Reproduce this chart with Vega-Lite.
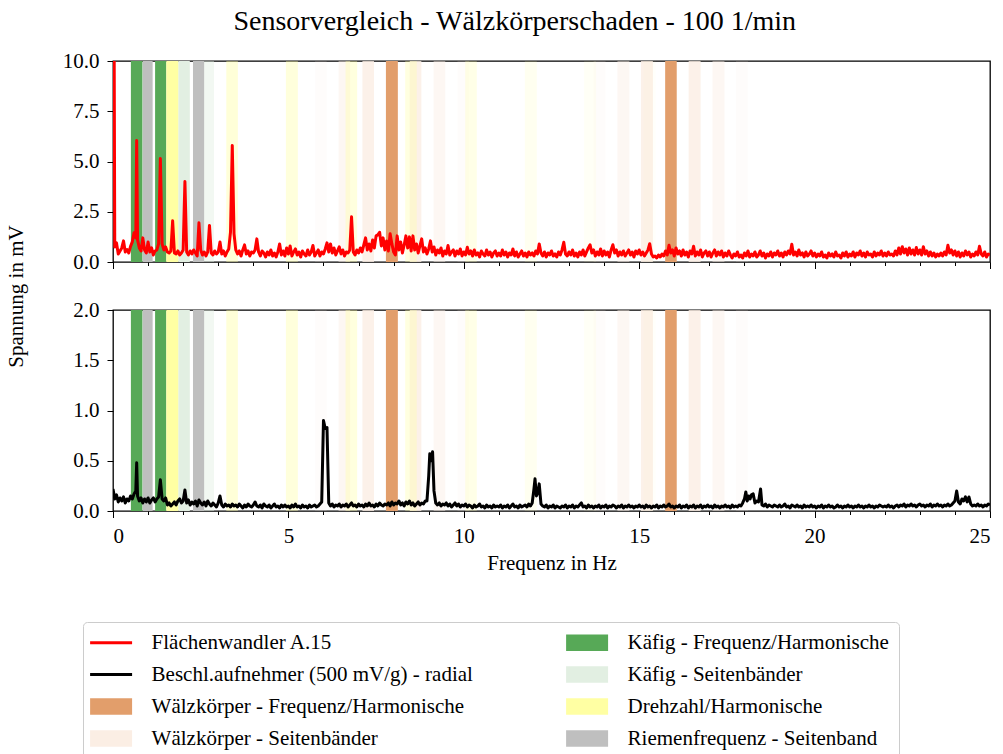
{
  "$schema": "https://vega.github.io/schema/vega-lite/v6.json",
  "background": "white",
  "padding": {"left": 4, "top": 8, "right": 5, "bottom": 5},
  "bounds": "flush",
  "title": {"text": "Sensorvergleich - Wälzkörperschaden - 100 1/min", "font": "Liberation Serif", "fontSize": 28, "fontWeight": "normal", "color": "black", "anchor": "middle", "dx": 17, "offset": 13},
  "datasets": {
    "bands": [
      {"a": 0.51, "b": 0.84, "k": "Käfig - Frequenz/Harmonische", "o": 1},
      {"a": 1.20, "b": 1.52, "k": "Käfig - Frequenz/Harmonische", "o": 1},
      {"a": 0.85, "b": 1.13, "k": "Riemenfrequenz - Seitenband", "o": 1},
      {"a": 2.28, "b": 2.60, "k": "Riemenfrequenz - Seitenband", "o": 1},
      {"a": 1.86, "b": 2.19, "k": "Käfig - Seitenbänder", "o": 1},
      {"a": 2.60, "b": 2.88, "k": "Käfig - Seitenbänder", "o": 0.45},
      {"a": 7.11, "b": 7.44, "k": "Wälzkörper - Seitenbänder", "o": 0.8},
      {"a": 8.46, "b": 8.79, "k": "Wälzkörper - Seitenbänder", "o": 0.8},
      {"a": 6.43, "b": 6.76, "k": "Wälzkörper - Seitenbänder", "o": 0.45},
      {"a": 9.14, "b": 9.47, "k": "Wälzkörper - Seitenbänder", "o": 0.45},
      {"a": 5.76, "b": 6.09, "k": "Wälzkörper - Seitenbänder", "o": 0.15},
      {"a": 9.82, "b": 10.15, "k": "Wälzkörper - Seitenbänder", "o": 0.15},
      {"a": 15.05, "b": 15.39, "k": "Wälzkörper - Seitenbänder", "o": 0.8},
      {"a": 16.41, "b": 16.75, "k": "Wälzkörper - Seitenbänder", "o": 0.8},
      {"a": 14.38, "b": 14.72, "k": "Wälzkörper - Seitenbänder", "o": 0.45},
      {"a": 17.09, "b": 17.43, "k": "Wälzkörper - Seitenbänder", "o": 0.45},
      {"a": 13.70, "b": 14.04, "k": "Wälzkörper - Seitenbänder", "o": 0.15},
      {"a": 17.76, "b": 18.10, "k": "Wälzkörper - Seitenbänder", "o": 0.15},
      {"a": 1.52, "b": 1.86, "k": "Drehzahl/Harmonische", "o": 1},
      {"a": 3.23, "b": 3.56, "k": "Drehzahl/Harmonische", "o": 0.42},
      {"a": 4.93, "b": 5.27, "k": "Drehzahl/Harmonische", "o": 0.38},
      {"a": 6.63, "b": 6.96, "k": "Drehzahl/Harmonische", "o": 0.36},
      {"a": 8.33, "b": 8.66, "k": "Drehzahl/Harmonische", "o": 0.34},
      {"a": 10.04, "b": 10.37, "k": "Drehzahl/Harmonische", "o": 0.26},
      {"a": 11.74, "b": 12.08, "k": "Drehzahl/Harmonische", "o": 0.16},
      {"a": 13.43, "b": 13.77, "k": "Drehzahl/Harmonische", "o": 0.1},
      {"a": 15.13, "b": 15.47, "k": "Drehzahl/Harmonische", "o": 0.05},
      {"a": 7.78, "b": 8.12, "k": "Wälzkörper - Frequenz/Harmonische", "o": 1},
      {"a": 15.74, "b": 16.07, "k": "Wälzkörper - Frequenz/Harmonische", "o": 1}
    ],
    "top": [
      {"f":0,"v":30},{"f":0.05,"v":0.75},{"f":0.1,"v":0.95},{"f":0.15,"v":0.4},{"f":0.2,"v":0.55},{"f":0.25,"v":0.7},{"f":0.3,"v":1.05},{"f":0.35,"v":0.5},{"f":0.4,"v":0.62},{"f":0.45,"v":0.45},{"f":0.5,"v":0.78},{"f":0.55,"v":1.0},{"f":0.6,"v":1.45},{"f":0.65,"v":1.2},{"f":0.675,"v":6.05},{"f":0.7,"v":1.1},{"f":0.75,"v":0.7},{"f":0.8,"v":0.55},{"f":0.85,"v":1.2},{"f":0.9,"v":0.6},{"f":0.95,"v":0.45},
      {"f":1,"v":1.0},{"f":1.05,"v":0.5},{"f":1.1,"v":0.7},{"f":1.15,"v":0.35},{"f":1.2,"v":0.55},{"f":1.25,"v":0.6},{"f":1.3,"v":0.9},{"f":1.35,"v":5.15},{"f":1.4,"v":0.9},{"f":1.45,"v":0.6},{"f":1.5,"v":0.75},{"f":1.55,"v":0.5},{"f":1.6,"v":0.45},{"f":1.65,"v":0.55},{"f":1.7,"v":2.05},{"f":1.75,"v":0.45},{"f":1.8,"v":0.4},{"f":1.85,"v":0.55},{"f":1.9,"v":0.35},{"f":1.95,"v":0.45},
      {"f":2,"v":0.6},{"f":2.05,"v":4.0},{"f":2.1,"v":0.5},{"f":2.15,"v":0.35},{"f":2.2,"v":0.55},{"f":2.25,"v":0.4},{"f":2.3,"v":0.6},{"f":2.35,"v":0.45},{"f":2.4,"v":0.3},{"f":2.45,"v":1.95},{"f":2.5,"v":0.6},{"f":2.55,"v":0.35},{"f":2.6,"v":0.5},{"f":2.65,"v":0.3},{"f":2.7,"v":0.5},{"f":2.75,"v":1.82},{"f":2.8,"v":0.45},{"f":2.85,"v":0.35},{"f":2.9,"v":0.55},{"f":2.95,"v":0.4},
      {"f":3,"v":0.5},{"f":3.05,"v":1.0},{"f":3.1,"v":0.4},{"f":3.15,"v":0.55},{"f":3.2,"v":0.3},{"f":3.25,"v":0.5},{"f":3.3,"v":0.65},{"f":3.35,"v":1.5},{"f":3.4,"v":5.8},{"f":3.45,"v":1.4},{"f":3.5,"v":0.6},{"f":3.55,"v":0.4},{"f":3.6,"v":0.55},{"f":3.65,"v":0.3},{"f":3.7,"v":0.6},{"f":3.75,"v":0.85},{"f":3.8,"v":0.4},{"f":3.85,"v":0.55},{"f":3.9,"v":0.3},{"f":3.95,"v":0.5},
      {"f":4,"v":0.45},{"f":4.05,"v":0.6},{"f":4.1,"v":1.15},{"f":4.15,"v":0.5},{"f":4.2,"v":0.3},{"f":4.25,"v":0.55},{"f":4.3,"v":0.45},{"f":4.35,"v":0.25},{"f":4.4,"v":0.5},{"f":4.45,"v":0.35},{"f":4.5,"v":0.6},{"f":4.55,"v":0.3},{"f":4.6,"v":0.45},{"f":4.65,"v":0.25},{"f":4.7,"v":0.5},{"f":4.75,"v":0.9},{"f":4.8,"v":0.35},{"f":4.85,"v":0.55},{"f":4.9,"v":0.3},{"f":4.95,"v":0.7},
      {"f":5,"v":0.4},{"f":5.05,"v":0.8},{"f":5.1,"v":0.3},{"f":5.15,"v":0.5},{"f":5.2,"v":0.65},{"f":5.25,"v":0.35},{"f":5.3,"v":0.5},{"f":5.35,"v":0.25},{"f":5.4,"v":0.55},{"f":5.45,"v":0.4},{"f":5.5,"v":0.3},{"f":5.55,"v":0.6},{"f":5.6,"v":0.35},{"f":5.65,"v":0.5},{"f":5.7,"v":0.82},{"f":5.75,"v":0.3},{"f":5.8,"v":0.45},{"f":5.85,"v":0.6},{"f":5.9,"v":0.3},{"f":5.95,"v":0.5},
      {"f":6,"v":0.4},{"f":6.05,"v":0.65},{"f":6.1,"v":0.95},{"f":6.15,"v":0.5},{"f":6.2,"v":0.9},{"f":6.25,"v":0.45},{"f":6.3,"v":0.7},{"f":6.35,"v":0.35},{"f":6.4,"v":0.55},{"f":6.45,"v":0.75},{"f":6.5,"v":0.4},{"f":6.55,"v":0.6},{"f":6.6,"v":0.3},{"f":6.65,"v":0.5},{"f":6.7,"v":0.45},{"f":6.75,"v":0.6},{"f":6.8,"v":2.25},{"f":6.85,"v":0.5},{"f":6.9,"v":0.35},{"f":6.95,"v":0.6},
      {"f":7,"v":0.45},{"f":7.05,"v":0.7},{"f":7.1,"v":0.5},{"f":7.15,"v":0.85},{"f":7.2,"v":1.2},{"f":7.25,"v":0.6},{"f":7.3,"v":0.9},{"f":7.35,"v":0.55},{"f":7.4,"v":1.1},{"f":7.45,"v":0.7},{"f":7.5,"v":1.3},{"f":7.55,"v":1.35},{"f":7.6,"v":1.48},{"f":7.65,"v":0.8},{"f":7.7,"v":1.2},{"f":7.75,"v":0.6},{"f":7.8,"v":1.05},{"f":7.85,"v":0.55},{"f":7.9,"v":1.4},{"f":7.95,"v":0.9},
      {"f":8,"v":0.5},{"f":8.05,"v":0.35},{"f":8.1,"v":1.3},{"f":8.15,"v":0.6},{"f":8.2,"v":1.0},{"f":8.25,"v":0.45},{"f":8.3,"v":0.85},{"f":8.35,"v":1.3},{"f":8.4,"v":0.7},{"f":8.45,"v":1.25},{"f":8.5,"v":0.55},{"f":8.55,"v":1.3},{"f":8.6,"v":0.6},{"f":8.65,"v":0.9},{"f":8.7,"v":0.45},{"f":8.75,"v":0.8},{"f":8.8,"v":1.15},{"f":8.85,"v":0.5},{"f":8.9,"v":0.7},{"f":8.95,"v":0.4},
      {"f":9,"v":0.65},{"f":9.05,"v":1.05},{"f":9.1,"v":0.5},{"f":9.15,"v":0.75},{"f":9.2,"v":0.35},{"f":9.25,"v":0.6},{"f":9.3,"v":0.45},{"f":9.35,"v":0.7},{"f":9.4,"v":0.3},{"f":9.45,"v":0.55},{"f":9.5,"v":0.4},{"f":9.55,"v":0.82},{"f":9.6,"v":0.35},{"f":9.65,"v":0.5},{"f":9.7,"v":0.6},{"f":9.75,"v":0.3},{"f":9.8,"v":0.55},{"f":9.85,"v":0.4},{"f":9.9,"v":0.65},{"f":9.95,"v":0.3},
      {"f":10,"v":0.5},{"f":10.05,"v":0.35},{"f":10.1,"v":0.73},{"f":10.15,"v":0.4},{"f":10.2,"v":0.55},{"f":10.25,"v":0.3},{"f":10.3,"v":0.6},{"f":10.35,"v":0.35},{"f":10.4,"v":0.45},{"f":10.45,"v":0.25},{"f":10.5,"v":0.55},{"f":10.55,"v":0.4},{"f":10.6,"v":0.3},{"f":10.65,"v":0.6},{"f":10.7,"v":0.35},{"f":10.75,"v":0.5},{"f":10.8,"v":0.25},{"f":10.85,"v":0.45},{"f":10.9,"v":0.55},{"f":10.95,"v":0.3},
      {"f":11,"v":0.45},{"f":11.05,"v":0.3},{"f":11.1,"v":0.6},{"f":11.15,"v":0.35},{"f":11.2,"v":0.5},{"f":11.25,"v":0.25},{"f":11.3,"v":0.45},{"f":11.35,"v":0.35},{"f":11.4,"v":0.65},{"f":11.45,"v":0.3},{"f":11.5,"v":0.5},{"f":11.55,"v":0.25},{"f":11.6,"v":0.4},{"f":11.65,"v":0.55},{"f":11.7,"v":0.3},{"f":11.75,"v":0.45},{"f":11.8,"v":0.25},{"f":11.85,"v":0.5},{"f":11.9,"v":0.35},{"f":11.95,"v":0.45},
      {"f":12,"v":0.3},{"f":12.05,"v":0.55},{"f":12.1,"v":0.4},{"f":12.15,"v":0.9},{"f":12.2,"v":0.45},{"f":12.25,"v":0.3},{"f":12.3,"v":0.5},{"f":12.35,"v":0.25},{"f":12.4,"v":0.45},{"f":12.45,"v":0.35},{"f":12.5,"v":0.55},{"f":12.55,"v":0.3},{"f":12.6,"v":0.4},{"f":12.65,"v":0.25},{"f":12.7,"v":0.5},{"f":12.75,"v":0.35},{"f":12.8,"v":0.6},{"f":12.85,"v":0.98},{"f":12.9,"v":0.4},{"f":12.95,"v":0.3},
      {"f":13,"v":0.5},{"f":13.05,"v":0.35},{"f":13.1,"v":0.6},{"f":13.15,"v":0.3},{"f":13.2,"v":0.45},{"f":13.25,"v":0.25},{"f":13.3,"v":0.5},{"f":13.35,"v":0.35},{"f":13.4,"v":0.6},{"f":13.45,"v":0.3},{"f":13.5,"v":0.5},{"f":13.55,"v":0.7},{"f":13.6,"v":0.86},{"f":13.65,"v":0.45},{"f":13.7,"v":0.6},{"f":13.75,"v":0.3},{"f":13.8,"v":0.5},{"f":13.85,"v":0.35},{"f":13.9,"v":0.65},{"f":13.95,"v":0.3},
      {"f":14,"v":0.55},{"f":14.05,"v":0.35},{"f":14.1,"v":0.5},{"f":14.15,"v":0.25},{"f":14.2,"v":0.6},{"f":14.25,"v":0.86},{"f":14.3,"v":0.45},{"f":14.35,"v":0.6},{"f":14.4,"v":0.3},{"f":14.45,"v":0.5},{"f":14.5,"v":0.35},{"f":14.55,"v":0.55},{"f":14.6,"v":0.3},{"f":14.65,"v":0.45},{"f":14.7,"v":0.6},{"f":14.75,"v":0.35},{"f":14.8,"v":0.5},{"f":14.85,"v":0.25},{"f":14.9,"v":0.55},{"f":14.95,"v":0.4},
      {"f":15,"v":0.6},{"f":15.05,"v":0.35},{"f":15.1,"v":0.5},{"f":15.15,"v":0.3},{"f":15.2,"v":0.45},{"f":15.25,"v":0.6},{"f":15.3,"v":0.91},{"f":15.35,"v":0.4},{"f":15.4,"v":0.25},{"f":15.45,"v":0.3},{"f":15.5,"v":0.2},{"f":15.55,"v":0.35},{"f":15.6,"v":0.25},{"f":15.65,"v":0.4},{"f":15.7,"v":0.3},{"f":15.75,"v":0.55},{"f":15.8,"v":0.35},{"f":15.85,"v":0.83},{"f":15.9,"v":0.45},{"f":15.95,"v":0.6},
      {"f":16,"v":0.3},{"f":16.05,"v":0.7},{"f":16.1,"v":0.4},{"f":16.15,"v":0.55},{"f":16.2,"v":0.3},{"f":16.25,"v":0.6},{"f":16.3,"v":0.35},{"f":16.35,"v":0.5},{"f":16.4,"v":0.25},{"f":16.45,"v":0.55},{"f":16.5,"v":0.4},{"f":16.55,"v":0.78},{"f":16.6,"v":0.3},{"f":16.65,"v":0.5},{"f":16.7,"v":0.35},{"f":16.75,"v":0.6},{"f":16.8,"v":0.25},{"f":16.85,"v":0.45},{"f":16.9,"v":0.55},{"f":16.95,"v":0.3},
      {"f":17,"v":0.5},{"f":17.05,"v":0.25},{"f":17.1,"v":0.45},{"f":17.15,"v":0.6},{"f":17.2,"v":0.3},{"f":17.25,"v":0.5},{"f":17.3,"v":0.35},{"f":17.35,"v":0.55},{"f":17.4,"v":0.25},{"f":17.45,"v":0.45},{"f":17.5,"v":0.3},{"f":17.55,"v":0.55},{"f":17.6,"v":0.35},{"f":17.65,"v":0.2},{"f":17.7,"v":0.4},{"f":17.75,"v":0.3},{"f":17.8,"v":0.5},{"f":17.85,"v":0.25},{"f":17.9,"v":0.35},{"f":17.95,"v":0.2},
      {"f":18,"v":0.45},{"f":18.05,"v":0.3},{"f":18.1,"v":0.55},{"f":18.15,"v":0.25},{"f":18.2,"v":0.4},{"f":18.25,"v":0.3},{"f":18.3,"v":0.5},{"f":18.35,"v":0.25},{"f":18.4,"v":0.35},{"f":18.45,"v":0.55},{"f":18.5,"v":0.3},{"f":18.55,"v":0.45},{"f":18.6,"v":0.2},{"f":18.65,"v":0.4},{"f":18.7,"v":0.3},{"f":18.75,"v":0.5},{"f":18.8,"v":0.25},{"f":18.85,"v":0.45},{"f":18.9,"v":0.35},{"f":18.95,"v":0.55},
      {"f":19,"v":0.3},{"f":19.05,"v":0.45},{"f":19.1,"v":0.25},{"f":19.15,"v":0.5},{"f":19.2,"v":0.35},{"f":19.25,"v":0.55},{"f":19.3,"v":0.4},{"f":19.35,"v":0.88},{"f":19.4,"v":0.35},{"f":19.45,"v":0.5},{"f":19.5,"v":0.3},{"f":19.55,"v":0.6},{"f":19.6,"v":0.35},{"f":19.65,"v":0.45},{"f":19.7,"v":0.25},{"f":19.75,"v":0.5},{"f":19.8,"v":0.3},{"f":19.85,"v":0.4},{"f":19.9,"v":0.55},{"f":19.95,"v":0.3},
      {"f":20,"v":0.45},{"f":20.05,"v":0.25},{"f":20.1,"v":0.4},{"f":20.15,"v":0.3},{"f":20.2,"v":0.5},{"f":20.25,"v":0.25},{"f":20.3,"v":0.35},{"f":20.35,"v":0.2},{"f":20.4,"v":0.45},{"f":20.45,"v":0.3},{"f":20.5,"v":0.4},{"f":20.55,"v":0.25},{"f":20.6,"v":0.5},{"f":20.65,"v":0.3},{"f":20.7,"v":0.35},{"f":20.75,"v":0.2},{"f":20.8,"v":0.45},{"f":20.85,"v":0.3},{"f":20.9,"v":0.5},{"f":20.95,"v":0.25},
      {"f":21,"v":0.4},{"f":21.05,"v":0.3},{"f":21.1,"v":0.5},{"f":21.15,"v":0.25},{"f":21.2,"v":0.45},{"f":21.25,"v":0.35},{"f":21.3,"v":0.55},{"f":21.35,"v":0.3},{"f":21.4,"v":0.45},{"f":21.45,"v":0.25},{"f":21.5,"v":0.5},{"f":21.55,"v":0.35},{"f":21.6,"v":0.4},{"f":21.65,"v":0.25},{"f":21.7,"v":0.5},{"f":21.75,"v":0.3},{"f":21.8,"v":0.45},{"f":21.85,"v":0.35},{"f":21.9,"v":0.55},{"f":21.95,"v":0.3},
      {"f":22,"v":0.45},{"f":22.05,"v":0.3},{"f":22.1,"v":0.5},{"f":22.15,"v":0.35},{"f":22.2,"v":0.4},{"f":22.25,"v":0.3},{"f":22.3,"v":0.55},{"f":22.35,"v":0.35},{"f":22.4,"v":0.7},{"f":22.45,"v":0.4},{"f":22.5,"v":0.76},{"f":22.55,"v":0.45},{"f":22.6,"v":0.65},{"f":22.65,"v":0.35},{"f":22.7,"v":0.7},{"f":22.75,"v":0.4},{"f":22.8,"v":0.6},{"f":22.85,"v":0.35},{"f":22.9,"v":0.72},{"f":22.95,"v":0.4},
      {"f":23,"v":0.6},{"f":23.05,"v":0.35},{"f":23.1,"v":0.76},{"f":23.15,"v":0.4},{"f":23.2,"v":0.55},{"f":23.25,"v":0.3},{"f":23.3,"v":0.5},{"f":23.35,"v":0.3},{"f":23.4,"v":0.45},{"f":23.45,"v":0.25},{"f":23.5,"v":0.4},{"f":23.55,"v":0.3},{"f":23.6,"v":0.45},{"f":23.65,"v":0.3},{"f":23.7,"v":0.5},{"f":23.75,"v":0.35},{"f":23.8,"v":0.83},{"f":23.85,"v":0.45},{"f":23.9,"v":0.6},{"f":23.95,"v":0.35},
      {"f":24,"v":0.55},{"f":24.05,"v":0.3},{"f":24.1,"v":0.5},{"f":24.15,"v":0.25},{"f":24.2,"v":0.45},{"f":24.25,"v":0.3},{"f":24.3,"v":0.55},{"f":24.35,"v":0.35},{"f":24.4,"v":0.5},{"f":24.45,"v":0.25},{"f":24.5,"v":0.4},{"f":24.55,"v":0.3},{"f":24.6,"v":0.5},{"f":24.65,"v":0.35},{"f":24.7,"v":0.78},{"f":24.75,"v":0.4},{"f":24.8,"v":0.3},{"f":24.85,"v":0.5},{"f":24.9,"v":0.25},{"f":24.95,"v":0.4},{"f":25,"v":0.35}
    ],
    "bottom": [
      {"f":0,"v":0.22},{"f":0.05,"v":0.12},{"f":0.1,"v":0.16},{"f":0.15,"v":0.09},{"f":0.2,"v":0.13},{"f":0.25,"v":0.1},{"f":0.3,"v":0.14},{"f":0.35,"v":0.08},{"f":0.4,"v":0.12},{"f":0.45,"v":0.1},{"f":0.5,"v":0.15},{"f":0.55,"v":0.12},{"f":0.6,"v":0.17},{"f":0.65,"v":0.2},{"f":0.675,"v":0.48},{"f":0.7,"v":0.15},{"f":0.75,"v":0.1},{"f":0.8,"v":0.13},{"f":0.85,"v":0.08},{"f":0.9,"v":0.12},{"f":0.95,"v":0.09},
      {"f":1,"v":0.13},{"f":1.05,"v":0.08},{"f":1.1,"v":0.11},{"f":1.15,"v":0.13},{"f":1.2,"v":0.09},{"f":1.25,"v":0.12},{"f":1.3,"v":0.14},{"f":1.35,"v":0.31},{"f":1.4,"v":0.12},{"f":1.45,"v":0.1},{"f":1.5,"v":0.13},{"f":1.55,"v":0.06},{"f":1.6,"v":0.08},{"f":1.65,"v":0.05},{"f":1.7,"v":0.07},{"f":1.75,"v":0.09},{"f":1.8,"v":0.06},{"f":1.85,"v":0.1},{"f":1.9,"v":0.12},{"f":1.95,"v":0.08},
      {"f":2,"v":0.1},{"f":2.05,"v":0.21},{"f":2.1,"v":0.08},{"f":2.15,"v":0.11},{"f":2.2,"v":0.06},{"f":2.25,"v":0.09},{"f":2.3,"v":0.07},{"f":2.35,"v":0.1},{"f":2.4,"v":0.05},{"f":2.45,"v":0.11},{"f":2.5,"v":0.08},{"f":2.55,"v":0.06},{"f":2.6,"v":0.09},{"f":2.65,"v":0.05},{"f":2.7,"v":0.1},{"f":2.75,"v":0.07},{"f":2.8,"v":0.05},{"f":2.85,"v":0.08},{"f":2.9,"v":0.06},{"f":2.95,"v":0.04},
      {"f":3,"v":0.08},{"f":3.05,"v":0.15},{"f":3.1,"v":0.06},{"f":3.15,"v":0.04},{"f":3.2,"v":0.07},{"f":3.25,"v":0.05},{"f":3.3,"v":0.06},{"f":3.35,"v":0.04},{"f":3.4,"v":0.07},{"f":3.45,"v":0.05},{"f":3.5,"v":0.06},{"f":3.55,"v":0.04},{"f":3.6,"v":0.07},{"f":3.65,"v":0.05},{"f":3.7,"v":0.03},{"f":3.75,"v":0.06},{"f":3.8,"v":0.04},{"f":3.85,"v":0.07},{"f":3.9,"v":0.05},{"f":3.95,"v":0.04},
      {"f":4,"v":0.06},{"f":4.05,"v":0.09},{"f":4.1,"v":0.05},{"f":4.15,"v":0.04},{"f":4.2,"v":0.06},{"f":4.25,"v":0.03},{"f":4.3,"v":0.07},{"f":4.35,"v":0.05},{"f":4.4,"v":0.04},{"f":4.45,"v":0.06},{"f":4.5,"v":0.03},{"f":4.55,"v":0.05},{"f":4.6,"v":0.07},{"f":4.65,"v":0.04},{"f":4.7,"v":0.05},{"f":4.75,"v":0.03},{"f":4.8,"v":0.06},{"f":4.85,"v":0.04},{"f":4.9,"v":0.06},{"f":4.95,"v":0.04},
      {"f":5,"v":0.05},{"f":5.05,"v":0.03},{"f":5.1,"v":0.06},{"f":5.15,"v":0.04},{"f":5.2,"v":0.07},{"f":5.25,"v":0.04},{"f":5.3,"v":0.05},{"f":5.35,"v":0.03},{"f":5.4,"v":0.06},{"f":5.45,"v":0.04},{"f":5.5,"v":0.05},{"f":5.55,"v":0.03},{"f":5.6,"v":0.06},{"f":5.65,"v":0.04},{"f":5.7,"v":0.05},{"f":5.75,"v":0.06},{"f":5.8,"v":0.04},{"f":5.85,"v":0.05},{"f":5.9,"v":0.07},{"f":5.95,"v":0.09},
      {"f":6,"v":0.9},{"f":6.05,"v":0.82},{"f":6.1,"v":0.83},{"f":6.15,"v":0.08},{"f":6.2,"v":0.05},{"f":6.25,"v":0.07},{"f":6.3,"v":0.04},{"f":6.35,"v":0.06},{"f":6.4,"v":0.05},{"f":6.45,"v":0.07},{"f":6.5,"v":0.04},{"f":6.55,"v":0.06},{"f":6.6,"v":0.05},{"f":6.65,"v":0.07},{"f":6.7,"v":0.04},{"f":6.75,"v":0.06},{"f":6.8,"v":0.08},{"f":6.85,"v":0.05},{"f":6.9,"v":0.06},{"f":6.95,"v":0.04},
      {"f":7,"v":0.07},{"f":7.05,"v":0.05},{"f":7.1,"v":0.06},{"f":7.15,"v":0.04},{"f":7.2,"v":0.07},{"f":7.25,"v":0.05},{"f":7.3,"v":0.08},{"f":7.35,"v":0.05},{"f":7.4,"v":0.06},{"f":7.45,"v":0.04},{"f":7.5,"v":0.07},{"f":7.55,"v":0.05},{"f":7.6,"v":0.08},{"f":7.65,"v":0.06},{"f":7.7,"v":0.05},{"f":7.75,"v":0.07},{"f":7.8,"v":0.06},{"f":7.85,"v":0.08},{"f":7.9,"v":0.05},{"f":7.95,"v":0.09},
      {"f":8,"v":0.06},{"f":8.05,"v":0.08},{"f":8.1,"v":0.07},{"f":8.15,"v":0.1},{"f":8.2,"v":0.06},{"f":8.25,"v":0.08},{"f":8.3,"v":0.05},{"f":8.35,"v":0.09},{"f":8.4,"v":0.07},{"f":8.45,"v":0.1},{"f":8.5,"v":0.06},{"f":8.55,"v":0.08},{"f":8.6,"v":0.05},{"f":8.65,"v":0.07},{"f":8.7,"v":0.09},{"f":8.75,"v":0.06},{"f":8.8,"v":0.08},{"f":8.85,"v":0.07},{"f":8.9,"v":0.1},{"f":8.95,"v":0.1},
      {"f":9,"v":0.35},{"f":9.03,"v":0.57},{"f":9.07,"v":0.5},{"f":9.11,"v":0.59},{"f":9.15,"v":0.2},{"f":9.2,"v":0.08},{"f":9.25,"v":0.06},{"f":9.3,"v":0.08},{"f":9.35,"v":0.05},{"f":9.4,"v":0.07},{"f":9.45,"v":0.06},{"f":9.5,"v":0.08},{"f":9.55,"v":0.05},{"f":9.6,"v":0.07},{"f":9.65,"v":0.04},{"f":9.7,"v":0.06},{"f":9.75,"v":0.08},{"f":9.8,"v":0.05},{"f":9.85,"v":0.07},{"f":9.9,"v":0.04},{"f":9.95,"v":0.06},
      {"f":10,"v":0.05},{"f":10.05,"v":0.07},{"f":10.1,"v":0.04},{"f":10.15,"v":0.06},{"f":10.2,"v":0.05},{"f":10.25,"v":0.03},{"f":10.3,"v":0.06},{"f":10.35,"v":0.04},{"f":10.4,"v":0.05},{"f":10.45,"v":0.07},{"f":10.5,"v":0.04},{"f":10.55,"v":0.05},{"f":10.6,"v":0.03},{"f":10.65,"v":0.06},{"f":10.7,"v":0.04},{"f":10.75,"v":0.05},{"f":10.8,"v":0.03},{"f":10.85,"v":0.06},{"f":10.9,"v":0.04},{"f":10.95,"v":0.05},
      {"f":11,"v":0.04},{"f":11.05,"v":0.06},{"f":11.1,"v":0.03},{"f":11.15,"v":0.05},{"f":11.2,"v":0.04},{"f":11.25,"v":0.06},{"f":11.3,"v":0.03},{"f":11.35,"v":0.05},{"f":11.4,"v":0.07},{"f":11.45,"v":0.04},{"f":11.5,"v":0.05},{"f":11.55,"v":0.03},{"f":11.6,"v":0.06},{"f":11.65,"v":0.04},{"f":11.7,"v":0.05},{"f":11.75,"v":0.06},{"f":11.8,"v":0.04},{"f":11.85,"v":0.07},{"f":11.9,"v":0.05},{"f":11.95,"v":0.08},
      {"f":12,"v":0.22},{"f":12.03,"v":0.32},{"f":12.07,"v":0.15},{"f":12.11,"v":0.18},{"f":12.15,"v":0.27},{"f":12.2,"v":0.07},{"f":12.25,"v":0.05},{"f":12.3,"v":0.04},{"f":12.35,"v":0.06},{"f":12.4,"v":0.03},{"f":12.45,"v":0.05},{"f":12.5,"v":0.04},{"f":12.55,"v":0.06},{"f":12.6,"v":0.03},{"f":12.65,"v":0.05},{"f":12.7,"v":0.04},{"f":12.75,"v":0.03},{"f":12.8,"v":0.05},{"f":12.85,"v":0.04},{"f":12.9,"v":0.06},{"f":12.95,"v":0.03},
      {"f":13,"v":0.05},{"f":13.05,"v":0.04},{"f":13.1,"v":0.06},{"f":13.15,"v":0.03},{"f":13.2,"v":0.05},{"f":13.25,"v":0.04},{"f":13.3,"v":0.06},{"f":13.35,"v":0.08},{"f":13.4,"v":0.04},{"f":13.45,"v":0.05},{"f":13.5,"v":0.03},{"f":13.55,"v":0.06},{"f":13.6,"v":0.04},{"f":13.65,"v":0.05},{"f":13.7,"v":0.03},{"f":13.75,"v":0.05},{"f":13.8,"v":0.04},{"f":13.85,"v":0.06},{"f":13.9,"v":0.03},{"f":13.95,"v":0.05},
      {"f":14,"v":0.04},{"f":14.05,"v":0.06},{"f":14.1,"v":0.03},{"f":14.15,"v":0.05},{"f":14.2,"v":0.04},{"f":14.25,"v":0.06},{"f":14.3,"v":0.05},{"f":14.35,"v":0.03},{"f":14.4,"v":0.05},{"f":14.45,"v":0.04},{"f":14.5,"v":0.06},{"f":14.55,"v":0.03},{"f":14.6,"v":0.05},{"f":14.65,"v":0.04},{"f":14.7,"v":0.06},{"f":14.75,"v":0.04},{"f":14.8,"v":0.05},{"f":14.85,"v":0.03},{"f":14.9,"v":0.05},{"f":14.95,"v":0.04},
      {"f":15,"v":0.06},{"f":15.05,"v":0.04},{"f":15.1,"v":0.05},{"f":15.15,"v":0.03},{"f":15.2,"v":0.06},{"f":15.25,"v":0.04},{"f":15.3,"v":0.05},{"f":15.35,"v":0.03},{"f":15.4,"v":0.05},{"f":15.45,"v":0.04},{"f":15.5,"v":0.06},{"f":15.55,"v":0.03},{"f":15.6,"v":0.05},{"f":15.65,"v":0.04},{"f":15.7,"v":0.06},{"f":15.75,"v":0.04},{"f":15.8,"v":0.05},{"f":15.85,"v":0.07},{"f":15.9,"v":0.04},{"f":15.95,"v":0.05},
      {"f":16,"v":0.03},{"f":16.05,"v":0.05},{"f":16.1,"v":0.04},{"f":16.15,"v":0.06},{"f":16.2,"v":0.03},{"f":16.25,"v":0.05},{"f":16.3,"v":0.04},{"f":16.35,"v":0.06},{"f":16.4,"v":0.03},{"f":16.45,"v":0.05},{"f":16.5,"v":0.04},{"f":16.55,"v":0.06},{"f":16.6,"v":0.03},{"f":16.65,"v":0.05},{"f":16.7,"v":0.04},{"f":16.75,"v":0.06},{"f":16.8,"v":0.03},{"f":16.85,"v":0.05},{"f":16.9,"v":0.04},{"f":16.95,"v":0.06},
      {"f":17,"v":0.04},{"f":17.05,"v":0.05},{"f":17.1,"v":0.03},{"f":17.15,"v":0.06},{"f":17.2,"v":0.04},{"f":17.25,"v":0.05},{"f":17.3,"v":0.03},{"f":17.35,"v":0.05},{"f":17.4,"v":0.04},{"f":17.45,"v":0.06},{"f":17.5,"v":0.04},{"f":17.55,"v":0.05},{"f":17.6,"v":0.03},{"f":17.65,"v":0.06},{"f":17.7,"v":0.04},{"f":17.75,"v":0.05},{"f":17.8,"v":0.04},{"f":17.85,"v":0.06},{"f":17.9,"v":0.05},{"f":17.95,"v":0.08},
      {"f":18,"v":0.12},{"f":18.04,"v":0.19},{"f":18.08,"v":0.1},{"f":18.12,"v":0.15},{"f":18.16,"v":0.12},{"f":18.2,"v":0.16},{"f":18.25,"v":0.17},{"f":18.3,"v":0.08},{"f":18.35,"v":0.1},{"f":18.4,"v":0.09},{"f":18.46,"v":0.22},{"f":18.5,"v":0.06},{"f":18.55,"v":0.05},{"f":18.6,"v":0.07},{"f":18.65,"v":0.04},{"f":18.7,"v":0.06},{"f":18.75,"v":0.05},{"f":18.8,"v":0.04},{"f":18.85,"v":0.06},{"f":18.9,"v":0.05},{"f":18.95,"v":0.04},
      {"f":19,"v":0.06},{"f":19.05,"v":0.04},{"f":19.1,"v":0.05},{"f":19.15,"v":0.07},{"f":19.2,"v":0.04},{"f":19.25,"v":0.05},{"f":19.3,"v":0.03},{"f":19.35,"v":0.06},{"f":19.4,"v":0.05},{"f":19.45,"v":0.04},{"f":19.5,"v":0.06},{"f":19.55,"v":0.04},{"f":19.6,"v":0.05},{"f":19.65,"v":0.03},{"f":19.7,"v":0.06},{"f":19.75,"v":0.04},{"f":19.8,"v":0.05},{"f":19.85,"v":0.04},{"f":19.9,"v":0.06},{"f":19.95,"v":0.04},
      {"f":20,"v":0.05},{"f":20.05,"v":0.03},{"f":20.1,"v":0.05},{"f":20.15,"v":0.04},{"f":20.2,"v":0.06},{"f":20.25,"v":0.03},{"f":20.3,"v":0.05},{"f":20.35,"v":0.04},{"f":20.4,"v":0.06},{"f":20.45,"v":0.04},{"f":20.5,"v":0.05},{"f":20.55,"v":0.03},{"f":20.6,"v":0.04},{"f":20.65,"v":0.06},{"f":20.7,"v":0.04},{"f":20.75,"v":0.05},{"f":20.8,"v":0.03},{"f":20.85,"v":0.05},{"f":20.9,"v":0.04},{"f":20.95,"v":0.06},
      {"f":21,"v":0.04},{"f":21.05,"v":0.05},{"f":21.1,"v":0.03},{"f":21.15,"v":0.05},{"f":21.2,"v":0.04},{"f":21.25,"v":0.06},{"f":21.3,"v":0.04},{"f":21.35,"v":0.05},{"f":21.4,"v":0.03},{"f":21.45,"v":0.05},{"f":21.5,"v":0.04},{"f":21.55,"v":0.06},{"f":21.6,"v":0.04},{"f":21.65,"v":0.05},{"f":21.7,"v":0.03},{"f":21.75,"v":0.05},{"f":21.8,"v":0.04},{"f":21.85,"v":0.06},{"f":21.9,"v":0.05},{"f":21.95,"v":0.04},
      {"f":22,"v":0.05},{"f":22.05,"v":0.04},{"f":22.1,"v":0.06},{"f":22.15,"v":0.04},{"f":22.2,"v":0.05},{"f":22.25,"v":0.03},{"f":22.3,"v":0.05},{"f":22.35,"v":0.06},{"f":22.4,"v":0.04},{"f":22.45,"v":0.06},{"f":22.5,"v":0.05},{"f":22.55,"v":0.07},{"f":22.6,"v":0.04},{"f":22.65,"v":0.06},{"f":22.7,"v":0.05},{"f":22.75,"v":0.07},{"f":22.8,"v":0.05},{"f":22.85,"v":0.06},{"f":22.9,"v":0.04},{"f":22.95,"v":0.06},
      {"f":23,"v":0.07},{"f":23.05,"v":0.05},{"f":23.1,"v":0.06},{"f":23.15,"v":0.04},{"f":23.2,"v":0.06},{"f":23.25,"v":0.05},{"f":23.3,"v":0.07},{"f":23.35,"v":0.04},{"f":23.4,"v":0.06},{"f":23.45,"v":0.05},{"f":23.5,"v":0.07},{"f":23.55,"v":0.05},{"f":23.6,"v":0.06},{"f":23.65,"v":0.04},{"f":23.7,"v":0.06},{"f":23.75,"v":0.05},{"f":23.8,"v":0.07},{"f":23.85,"v":0.05},{"f":23.9,"v":0.06},{"f":23.95,"v":0.08},
      {"f":24,"v":0.1},{"f":24.05,"v":0.2},{"f":24.1,"v":0.09},{"f":24.15,"v":0.07},{"f":24.2,"v":0.12},{"f":24.25,"v":0.1},{"f":24.3,"v":0.14},{"f":24.35,"v":0.09},{"f":24.4,"v":0.14},{"f":24.45,"v":0.07},{"f":24.5,"v":0.05},{"f":24.55,"v":0.06},{"f":24.6,"v":0.05},{"f":24.65,"v":0.07},{"f":24.7,"v":0.05},{"f":24.75,"v":0.06},{"f":24.8,"v":0.04},{"f":24.85,"v":0.06},{"f":24.9,"v":0.05},{"f":24.95,"v":0.07},{"f":25,"v":0.06}
    ]
  },
  "spacing": 48,
  "resolve": {"scale": {"color": "shared"}},
  "vconcat": [
    {
      "width": 877,
      "height": 201,
      "resolve": {"axis": {"x": "independent"}},
      "layer": [
        {
          "data": {"name": "bands"},
          "mark": {"type": "rect"},
          "encoding": {
            "x": {"field": "a", "type": "quantitative", "scale": {"domain": [0, 25], "nice": false, "zero": false},
                  "axis": {"orient": "bottom", "values": [0,1,2,3,4,5,6,7,8,9,10,11,12,13,14,15,16,17,18,19,20,21,22,23,24,25], "labels": false, "tickSize": 3.5, "title": null}},
            "x2": {"field": "b"},
            "color": {"field": "k", "type": "nominal",
              "scale": {"domain": ["Flächenwandler A.15", "Beschl.aufnehmer (500 mV/g) - radial", "Wälzkörper - Frequenz/Harmonische", "Wälzkörper - Seitenbänder", "Käfig - Frequenz/Harmonische", "Käfig - Seitenbänder", "Drehzahl/Harmonische", "Riemenfrequenz - Seitenband"],
                        "range": ["#ff0000", "#000000", "#e29e6b", "#fbeee4", "#57a957", "#e2efe2", "#ffffa3", "#bfbfbf"]},
              "legend": {
                "symbolType": {"expr": "indexof(['Flächenwandler A.15', 'Beschl.aufnehmer (500 mV/g) - radial'], datum.value) >= 0 ? 'M-2.5,-0.17H2.5V0.17H-2.5Z' : 'M-2.5,-0.98H2.5V0.98H-2.5Z'"}
              }},
            "opacity": {"field": "o", "type": "quantitative", "scale": null, "legend": null}
          }
        },
        {
          "data": {"name": "top"},
          "mark": {"type": "line", "clip": true, "strokeWidth": 3, "strokeJoin": "round"},
          "encoding": {
            "x": {"field": "f", "type": "quantitative", "scale": {"domain": [0, 25], "nice": false, "zero": false},
                  "axis": {"orient": "bottom", "values": [0,5,10,15,20,25], "labels": false, "tickSize": 6.5, "title": null}},
            "y": {"field": "v", "type": "quantitative", "scale": {"domain": [0, 10], "nice": false},
                  "axis": {"values": [0, 2.5, 5, 7.5, 10], "format": ".1f", "tickSize": 6, "title": "Spannung in mV", "titleX": -87, "titleY": 235}},
            "color": {"datum": "Flächenwandler A.15", "type": "nominal"}
          }
        }
      ]
    },
    {
      "width": 877,
      "height": 201,
      "resolve": {"axis": {"x": "independent"}},
      "layer": [
        {
          "data": {"name": "bands"},
          "mark": {"type": "rect"},
          "encoding": {
            "x": {"field": "a", "type": "quantitative", "scale": {"domain": [0, 25], "nice": false, "zero": false},
                  "axis": {"orient": "bottom", "values": [0,1,2,3,4,5,6,7,8,9,10,11,12,13,14,15,16,17,18,19,20,21,22,23,24,25], "labels": false, "tickSize": 3.5, "title": null}},
            "x2": {"field": "b"},
            "color": {"field": "k", "type": "nominal"},
            "opacity": {"field": "o", "type": "quantitative", "scale": null, "legend": null}
          }
        },
        {
          "data": {"name": "bottom"},
          "mark": {"type": "line", "clip": true, "strokeWidth": 3, "strokeJoin": "round"},
          "encoding": {
            "x": {"field": "f", "type": "quantitative", "scale": {"domain": [0, 25], "nice": false, "zero": false},
                  "axis": {"orient": "bottom", "values": [0,5,10,15,20,25], "format": "d", "tickSize": 6.5, "title": "Frequenz in Hz", "titlePadding": 6}},
            "y": {"field": "v", "type": "quantitative", "scale": {"domain": [0, 2], "nice": false},
                  "axis": {"values": [0, 0.5, 1, 1.5, 2], "format": ".1f", "tickSize": 6, "title": null}},
            "color": {"datum": "Beschl.aufnehmer (500 mV/g) - radial", "type": "nominal"}
          }
        }
      ]
    }
  ],
  "config": {
    "font": "Liberation Serif",
    "view": {"stroke": "black", "strokeWidth": 1.3},
    "axis": {
      "domain": false, "grid": false,
      "tickColor": "black", "tickWidth": 1,
      "labelFont": "Liberation Serif", "labelFontSize": 21, "labelColor": "black", "labelPadding": 8,
      "titleFont": "Liberation Serif", "titleFontSize": 21, "titleFontWeight": "normal", "titleColor": "black"
    },
    "legend": {
      "title": null,
      "orient": "none",
      "legendX": -30,
      "legendY": 561,
      "columns": 2,
      "columnPadding": 93,
      "rowPadding": 10,
      "padding": 10,
      "fillColor": "white",
      "strokeColor": "#cccccc",
      "cornerRadius": 4,
      "symbolSize": 282,
      "symbolOffset": 7.6,
      "symbolStrokeWidth": 0,
      "symbolOpacity": 1,
      "labelFont": "Liberation Serif",
      "labelFontSize": 21,
      "labelColor": "black",
      "labelOffset": 30,
      "labelLimit": 600,
      "encode": {
        "symbols": {
          "update": {
            "fill": {"scale": "color", "field": "value"},
            "stroke": {"value": "transparent"},
            "opacity": {"value": 1}
          }
        }
      }
    }
  }
}
